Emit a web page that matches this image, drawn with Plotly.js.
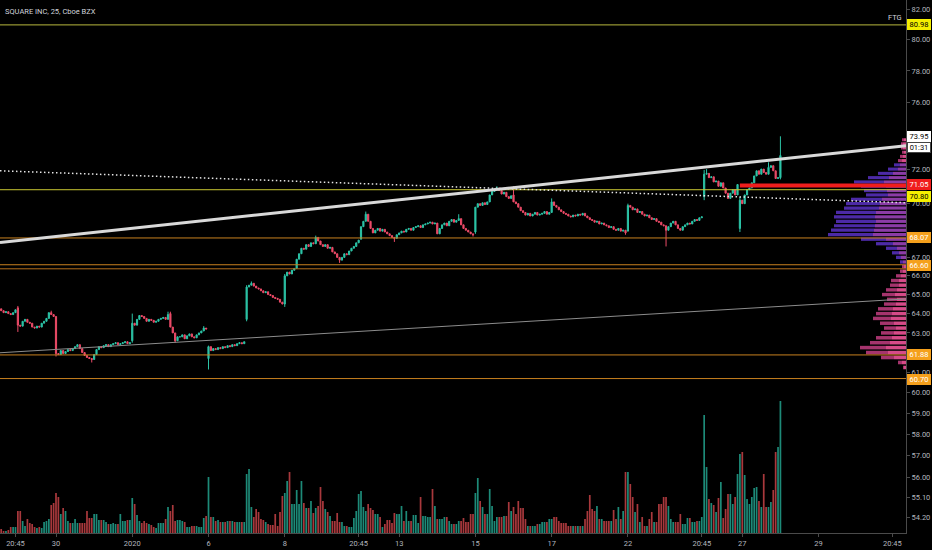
<!DOCTYPE html>
<html>
<head>
<meta charset="utf-8">
<script src="https://cdn.plot.ly/plotly-3.0.1.min.js"></script>
<style>
html,body{margin:0;padding:0;background:#000;}
#chart{width:932px;height:550px;}
</style>
</head>
<body>
<div id="chart"></div>
<script>
// ---- 25-minute closes, one line per session ----
const closes = [
64.15,64.05,64.1,64.0,63.95,64.05,64.2,
63.4,63.35,63.6,63.7,63.55,63.5,63.3,63.25,63.35,63.3,63.5,63.6,63.75,64.05,63.95,63.85,
61.95,61.9,62.1,61.95,62.05,62.15,62.1,62.2,62.3,62.4,62.2,62.0,61.85,61.75,61.7,61.65,
61.9,62.15,62.3,62.25,62.35,62.4,62.3,62.4,62.45,62.5,62.4,62.45,62.5,62.55,62.45,62.5,
63.5,63.4,63.7,63.9,63.85,63.75,63.6,63.7,63.65,63.55,63.6,63.7,63.75,63.8,63.7,63.95,
63.3,63.0,62.6,62.8,62.8,62.9,62.7,62.85,62.95,62.8,62.75,62.9,63.0,63.1,63.25,63.2,
62.3,62.1,62.2,62.15,62.25,62.2,62.3,62.25,62.35,62.3,62.4,62.35,62.45,62.5,62.45,62.55,
65.4,65.5,65.6,65.45,65.35,65.3,65.2,65.1,65.15,65.0,64.95,64.85,64.8,64.75,64.6,64.5,
66.0,66.2,66.1,66.3,66.4,66.9,67.2,67.5,67.45,67.7,67.6,67.8,67.75,68.1,67.9,67.7,
67.6,67.7,67.5,67.55,67.3,67.2,67.0,66.85,67.0,67.2,67.15,67.35,67.5,67.6,67.8,67.95,
68.7,69.0,69.4,69.0,68.6,68.35,68.5,68.6,68.45,68.55,68.4,68.3,68.2,68.1,68.05,68.25,
68.35,68.45,68.4,68.55,68.6,68.5,68.65,68.7,68.75,68.65,68.8,68.85,68.9,68.95,68.85,68.9,
68.3,68.6,68.8,68.9,68.75,69.0,69.1,68.95,69.05,69.15,68.8,68.6,68.5,68.4,68.3,68.25,
69.8,70.0,69.9,70.05,69.95,70.1,70.5,70.7,70.85,70.9,70.75,70.55,70.65,70.4,70.3,70.45,
70.1,70.0,69.8,69.6,69.5,69.35,69.45,69.3,69.4,69.5,69.35,69.4,69.45,69.55,69.4,69.5,
70.1,69.9,69.8,69.65,69.55,69.45,69.4,69.3,69.25,69.35,69.3,69.4,69.35,69.45,69.3,69.2,
69.1,69.05,68.95,69.0,68.85,68.9,68.8,68.75,68.65,68.7,68.55,68.5,68.6,68.45,68.5,68.35,
69.9,69.8,69.65,69.7,69.5,69.55,69.4,69.3,69.35,69.2,69.1,69.15,69.0,68.95,68.8,68.75,
68.5,68.7,68.9,69.0,68.8,68.6,68.5,68.7,68.8,68.9,68.85,69.0,69.1,69.05,69.2,69.25,
71.7,71.75,71.5,71.55,71.25,71.3,71.0,71.2,70.9,70.6,70.3,70.6,70.8,70.5,71.1,
70.2,70.0,70.5,70.8,70.9,71.2,71.6,71.9,71.7,72.0,71.8,71.7,72.1,72.2,71.9,71.45,71.5,72.8
];
// session-open bars whose open is not the prior close
const gapIdx  = [0, 7, 55, 71, 87, 103, 119, 151, 199, 215, 263, 295, 310, 327];
const gapOpen = [64.25, 64.3, 62.6, 64.0, 61.7, 63.7, 64.5, 68.0, 68.4, 70.5, 68.45, 70.4, 68.6, 71.5];
// visible wicks
const highIdx = [7, 21, 55, 70, 71, 85, 87, 103, 105, 119, 132, 153, 192, 208, 215, 231, 263, 295, 296, 310, 322, 327];
const highVal = [64.4, 64.15, 64.0, 64.1, 64.1, 63.35, 62.35, 65.5, 65.7, 66.1, 68.2, 69.55, 69.4, 71.0, 71.0, 70.3, 70.0, 71.95, 72.0, 70.4, 72.4, 73.95];
const lowIdx  = [7, 23, 38, 55, 73, 87, 103, 119, 142, 165, 198, 199, 262, 279, 295, 310, 327];
const lowVal  = [63.05, 61.8, 61.5, 62.5, 62.5, 61.15, 63.6, 64.35, 66.7, 67.85, 68.15, 68.3, 68.25, 67.6, 70.2, 68.4, 71.4];
// volume per bar (x10k shares)
const volumes = [
4,2,2,3,6,6,6,
22,22,12,7,14,10,9,6,5,6,5,11,12,14,28,30,
40,36,19,25,22,12,10,10,14,10,10,10,10,22,15,15,
19,19,13,13,13,11,9,9,10,9,9,19,12,12,13,13,
35,29,18,12,10,12,10,9,8,6,5,10,10,10,14,26,
22,28,12,13,13,12,11,6,6,7,7,7,6,6,15,17,
56,16,16,12,13,11,11,11,12,12,12,11,11,11,11,11,
59,64,26,16,24,21,14,13,11,9,8,8,19,7,21,37,
40,52,61,29,29,43,29,52,30,25,25,32,20,25,27,46,
32,24,21,17,12,12,20,11,11,7,7,6,6,15,22,39,
42,26,22,29,25,23,19,19,16,6,9,13,13,10,20,19,
19,27,12,22,12,12,18,18,10,36,17,17,16,16,44,27,
14,14,14,16,16,12,9,9,9,12,12,15,11,11,19,19,
40,55,32,26,19,19,44,27,12,16,16,16,17,17,31,22,
26,19,32,25,25,14,7,7,7,7,9,9,11,11,11,14,
14,16,16,12,10,10,10,7,7,7,7,7,7,7,14,22,
38,24,22,27,14,14,12,12,12,12,23,14,26,14,22,61,
61,49,36,21,29,11,16,7,7,14,21,11,11,29,29,36,
36,27,14,11,11,11,19,9,9,15,15,11,11,12,12,16,
118,66,34,30,28,21,35,51,15,24,39,39,29,36,59,
79,81,58,34,29,36,45,46,32,26,59,26,26,31,43,81,86,132
];
// time-axis labels
const tickIdx  = [6, 23, 55, 87, 119, 150, 167, 199, 231, 263, 294, 311, 343, 374];
const tickText = ['20:45','30','2020','6','8','20:45','13','15','17','22','20:45','27','29','20:45'];
// price-axis labels
const priceTicks = [54.2, 55.1, 56, 57, 58, 59, 60, 61, 63, 64, 65, 66, 67, 70, 72, 76, 78, 80, 82];
// volume profile (visible range)
const profPrice = [61.25,61.5,61.75,62.0,62.25,62.5,62.75,63.0,63.25,63.5,63.75,64.0,64.25,64.5,64.75,65.0,65.25,65.5,65.75,66.0,66.25,66.5,66.75,67.0,67.25,67.5,67.75,68.0,68.25,68.5,68.75,69.0,69.25,69.5,69.75,70.0,70.25,70.5,70.75,71.0,71.25,71.5,71.75,72.0,72.25,72.5,72.75,73.0,73.25,73.5,73.75];
const profDown  = [2,4,12,18,20,16,14,12,10,12,15,14,13,10,9,11,9,7,7,5,3,2,3,5,7,9,13,20,33,32,31,30,31,30,27,26,24,18,19,20,22,17,13,8,6,4,3,2,3,3,2];
const profUp    = [1,4,13,22,26,20,16,13,12,14,18,16,15,12,10,13,11,9,8,5,3,2,3,5,7,11,17,25,45,43,41,40,41,40,35,34,31,22,23,25,30,21,15,10,6,4,3,2,2,2,2];
const valueArea = [66.7, 72.3];
// horizontal levels
const levelPrices = [80.98, 70.80, 68.07, 66.60, 66.38, 61.88, 60.70];
const levelColors = ['#b9b83e', '#c9c733', '#c8801f', '#c8801f', '#b5701c', '#c8801f', '#c8801f'];
const zonePrice = 71.05, zoneStartIdx = 310;
// trend lines: price at left edge, price at right edge
const trendWhite  = [67.82, 73.39];
const trendDotted = [71.90, 70.05];
const trendGrey   = [61.99, 64.77];
const lastPrice = 73.95;

// ---- build ----
const XMIN = -0.5, XMAX = 379.7;
const PX_PER_BAR = 906 / (XMAX - XMIN);
const UP = '#2cc4a7', DN = '#ec4b68';
const VUP = '#1d8a78', VDN = '#a8383c';

const xs = closes.map((_, i) => i);
const opens = closes.map((c, i) => i === 0 ? c : closes[i - 1]);
gapIdx.forEach((k, j) => { opens[k] = gapOpen[j]; });
const highs = closes.map((c, i) => Math.max(c, opens[i]));
const lows  = closes.map((c, i) => Math.min(c, opens[i]));
highIdx.forEach((k, j) => { highs[k] = highVal[j]; });
lowIdx.forEach((k, j) => { lows[k] = lowVal[j]; });

const inVA = p => p >= valueArea[0] && p <= valueArea[1];
const S = 1 / PX_PER_BAR;

const traces = [];
traces.push({
  type: 'bar', x: xs, y: volumes, xaxis: 'x', yaxis: 'y2',
  marker: { color: closes.map((c, i) => c >= opens[i] ? VUP : VDN), line: { width: 0 } },
  hoverinfo: 'skip'
});
traces.push({
  type: 'bar', orientation: 'h', y: profPrice, x: profDown.map(v => -v * S), base: XMAX,
  marker: { color: profPrice.map(p => inVA(p) ? '#8b3ca6' : '#d64b88'), line: { width: 0 } },
  hoverinfo: 'skip'
});
traces.push({
  type: 'bar', orientation: 'h', y: profPrice, x: profUp.map(v => -v * S),
  base: profDown.map(v => XMAX - v * S),
  marker: { color: profPrice.map(p => inVA(p) ? '#4c2aa6' : '#a5346d'), line: { width: 0 } },
  hoverinfo: 'skip'
});
traces.push({
  type: 'candlestick', x: xs, open: opens, high: highs, low: lows, close: closes,
  increasing: { line: { color: UP, width: 1 }, fillcolor: UP },
  decreasing: { line: { color: DN, width: 1 }, fillcolor: DN },
  whiskerwidth: 0, hoverinfo: 'skip'
});
levelPrices.forEach((p, k) => traces.push({
  type: 'scatter', mode: 'lines', x: [XMIN, XMAX], y: [p, p],
  line: { color: levelColors[k], width: 1 }, hoverinfo: 'skip'
}));
traces.push({
  type: 'scatter', mode: 'lines', x: [zoneStartIdx, XMAX], y: [zonePrice, zonePrice],
  line: { color: '#f01d1d', width: 4 }, hoverinfo: 'skip'
});
traces.push({
  type: 'scatter', mode: 'lines', x: [XMIN, XMAX], y: trendGrey,
  line: { color: '#8c8c8c', width: 1 }, hoverinfo: 'skip'
});
traces.push({
  type: 'scatter', mode: 'lines', x: [XMIN, XMAX], y: trendDotted,
  line: { color: '#e6e6e6', width: 1.5, dash: '1.5px,2.5px' }, hoverinfo: 'skip'
});
traces.push({
  type: 'scatter', mode: 'lines', x: [XMIN, XMAX], y: trendWhite,
  line: { color: '#d9d9d9', width: 3 }, hoverinfo: 'skip'
});

const FONT = 'Roboto, Arial, sans-serif';
const tag = (p, bg, fg, shift, txt, border) => ({
  xref: 'paper', x: 1, xanchor: 'left', xshift: 1,
  yref: 'y', y: Math.log10(p), yanchor: 'middle', yshift: shift || 0,
  text: txt || p.toFixed(2), showarrow: false, width: 22, height: 9, align: 'center',
  bgcolor: bg, bordercolor: border || bg, borderwidth: 1, borderpad: 0,
  font: { family: FONT, size: 7.5, color: fg }
});

const annotations = [
  { xref: 'paper', yref: 'paper', x: 0, y: 1, xanchor: 'left', yanchor: 'top', xshift: 3, yshift: -5,
    text: 'SQUARE INC, 25, Cboe BZX', showarrow: false, font: { family: FONT, size: 7.5, color: '#d1d4dc' } },
  { xref: 'paper', yref: 'y', x: 1, y: Math.log10(80.98), xanchor: 'right', yanchor: 'bottom', xshift: -2, yshift: 1,
    text: 'FTG', showarrow: false, font: { family: FONT, size: 7.5, color: '#d1d4dc' } },
  tag(80.98, '#f4ef00', '#000'),
  tag(lastPrice, '#ffffff', '#000'),
  tag(lastPrice, '#ffffff', '#000', -11, '01:31', '#444'),
  tag(71.05, '#f01d1d', '#fff', 1),
  tag(70.80, '#f4ef00', '#000', -7),
  tag(68.07, '#f5a01c', '#fff'),
  tag(66.60, '#f5a01c', '#fff', -1),
  tag(61.88, '#f5a01c', '#fff'),
  tag(60.70, '#f5a01c', '#fff', -1)
];

const layout = {
  width: 932, height: 550,
  margin: { l: 0, r: 26, t: 0, b: 17 },
  paper_bgcolor: '#000', plot_bgcolor: '#000',
  showlegend: false, hovermode: false,
  barmode: 'overlay', bargap: 0.28,
  font: { family: FONT, color: '#b2b5be', size: 7.5 },
  xaxis: {
    range: [XMIN, XMAX], rangeslider: { visible: false },
    tickmode: 'array', tickvals: tickIdx, ticktext: tickText,
    showgrid: false, zeroline: false, showline: true, linecolor: '#4a4a4a', linewidth: 1,
    ticks: 'outside', ticklen: 3, tickcolor: '#4a4a4a',
    tickfont: { family: FONT, size: 7.5, color: '#b2b5be' }, fixedrange: true
  },
  yaxis: {
    type: 'log', side: 'right',
    range: [Math.log10(53.52), Math.log10(82.64)],
    tickmode: 'array', tickvals: priceTicks, ticktext: priceTicks.map(v => v.toFixed(2)),
    showgrid: false, zeroline: false, showline: true, linecolor: '#4a4a4a', linewidth: 1,
    ticks: 'outside', ticklen: 3, tickcolor: '#4a4a4a',
    tickfont: { family: FONT, size: 7.5, color: '#b2b5be' }, fixedrange: true
  },
  yaxis2: { overlaying: 'y', range: [0, 533], visible: false, fixedrange: true },
  annotations: annotations
};

Plotly.newPlot('chart', traces, layout, { staticPlot: true, displayModeBar: false });
</script>
</body>
</html>
